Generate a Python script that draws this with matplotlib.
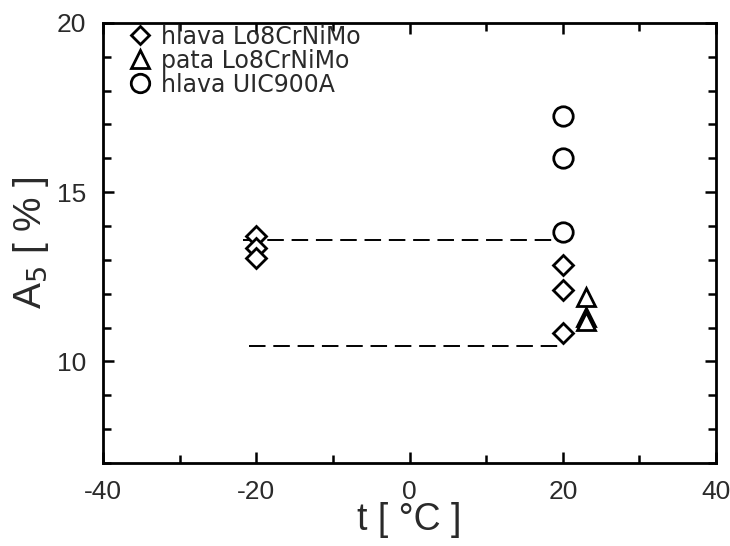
import numpy as np
import matplotlib
matplotlib.use("Agg")
import matplotlib.pyplot as plt
from matplotlib.ticker import MultipleLocator

plt.rcParams["font.family"] = ["Liberation Sans"]
plt.rcParams["axes.unicode_minus"] = False

# Elongation A5 [%] vs. test temperature t [deg C]
head_lo8_t = [-20, -20, -20, 20, 20, 20]
head_lo8_a5 = [13.7, 13.35, 13.05, 12.85, 12.12, 10.85]

foot_lo8_t = [23, 23, 23]
foot_lo8_a5 = [11.9, 11.3, 11.2]

head_uic_t = [20, 20, 20]
head_uic_a5 = [17.25, 16.0, 13.82]

# horizontal reference levels
upper_line_t = [-21.7, 18.6]
upper_line_a5 = [13.6, 13.6]
lower_line_t = [-21.0, 19.6]
lower_line_a5 = [10.45, 10.45]

labels = ["hlava Lo8CrNiMo", "pata Lo8CrNiMo", "hlava UIC900A"]

fig = plt.figure(figsize=(7.3, 5.46), dpi=100)
ax = fig.add_axes([0.141, 0.152, 0.840, 0.806])

dash_kw = dict(color="black", lw=1.4, dashes=(8.5, 4))
ax.plot(upper_line_t, upper_line_a5, **dash_kw)
ax.plot(lower_line_t, lower_line_a5, **dash_kw)

mk = dict(linestyle="none", markerfacecolor="white", markeredgecolor="black",
          markeredgewidth=2.0, zorder=3)
ax.plot(head_lo8_t, head_lo8_a5, marker="D", markersize=10, label=labels[0], **mk)
ax.plot(foot_lo8_t, foot_lo8_a5, marker="^", markersize=13, label=labels[1], **mk)
ax.plot(head_uic_t, head_uic_a5, marker="o", markersize=14, label=labels[2], **mk)

ax.set_xlim(-40, 40)
ax.set_ylim(7, 20)
ax.xaxis.set_major_locator(MultipleLocator(20))
ax.xaxis.set_minor_locator(MultipleLocator(10))
ax.yaxis.set_major_locator(MultipleLocator(5))
ax.yaxis.set_minor_locator(MultipleLocator(1))
ax.tick_params(which="both", direction="in", top=True, right=True,
               width=1.8, labelsize=19, labelcolor="#2a2a2a", pad=12)
ax.tick_params(which="major", length=8)
ax.tick_params(which="minor", length=6)
for s in ax.spines.values():
    s.set_linewidth(2.0)

ax.set_xlabel("t [ °C ]", fontsize=27, color="#2a2a2a", labelpad=-1)
ax.set_ylabel("A$_5$ [ % ]", fontsize=28, color="#2a2a2a", labelpad=4)

leg = ax.legend(loc="upper left", bbox_to_anchor=(0.02, 1.012), frameon=False,
                prop={"family": "DejaVu Sans", "size": 17},
                handletextpad=0.15, labelspacing=0.0, borderaxespad=0.0,
                borderpad=0.3, handlelength=1.5, markerscale=0.95)
for t in leg.get_texts():
    t.set_color("#2a2a2a")

fig.savefig("out.png", dpi=100)
